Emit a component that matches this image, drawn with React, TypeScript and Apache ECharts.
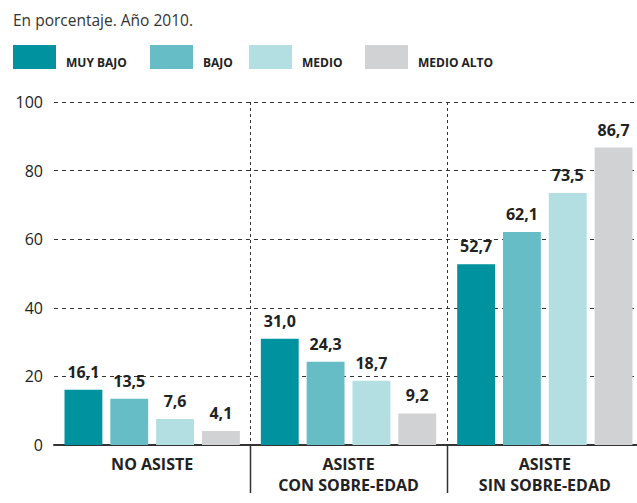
import React, { useEffect, useRef } from "react";
import * as echarts from "echarts";

const categories = ["NO ASISTE", "ASISTE\nCON SOBRE-EDAD", "ASISTE\nSIN SOBRE-EDAD"];
const seriesNames = ["MUY BAJO", "BAJO", "MEDIO", "MEDIO ALTO"];
const muyBajo = [16.1, 31.0, 52.7];
const bajo = [13.5, 24.3, 62.1];
const medio = [7.6, 18.7, 73.5];
const medioAlto = [4.1, 9.2, 86.7];
const yTicks = [0, 20, 40, 60, 80, 100];

const COLORS = ["#00939F", "#66BDC6", "#B3DFE3", "#D1D2D4"];
const FONT = "Open Sans";
const LEGEND_LEFT = [13, 150, 249, 365];

export default function App() {
  const ref = useRef<HTMLDivElement>(null);
  useEffect(() => {
    if (!ref.current) return;
    const chart = echarts.init(ref.current, null, { renderer: "svg" });
    const allSeries = [muyBajo, bajo, medio, medioAlto];
    const fmt = (v: number) => v.toFixed(1).replace(".", ",");
    chart.setOption({
      animation: false,
      textStyle: { fontFamily: FONT },
      title: {
        text: "En porcentaje. Año 2010.",
        left: 8,
        top: 7,
        textStyle: { fontFamily: FONT, fontSize: 15.5, fontWeight: "normal", color: "#333" },
      },
      legend: seriesNames.map((n, i) => ({
        data: [n],
        left: LEGEND_LEFT[i],
        top: 45,
        padding: 0,
        icon: "rect",
        itemWidth: 43,
        itemHeight: 24,
        itemGap: 0,
        selectedMode: false,
        formatter: "{a|{name}}",
        textStyle: {
          fontFamily: FONT,
          fontSize: 12,
          fontWeight: "bold",
          color: "#222",
          rich: {
            a: {
              fontFamily: FONT,
              fontSize: 12,
              fontWeight: "bold",
              color: "#222",
              padding: [10, 0, 0, 5],
            },
          },
        },
      })),
      grid: {
        left: 54,
        width: 589,
        top: 102,
        bottom: 58,
        containLabel: false,
        outerBoundsMode: "none",
      },
      xAxis: {
        type: "category",
        data: categories,
        axisLine: { show: true, lineStyle: { color: "#333", width: 2 } },
        axisTick: { show: false },
        axisLabel: {
          interval: 0,
          margin: 8,
          fontFamily: FONT,
          fontSize: 16,
          fontWeight: "bold",
          color: "#222",
          lineHeight: 21,
        },
      },
      yAxis: {
        type: "value",
        min: yTicks[0],
        max: yTicks[yTicks.length - 1],
        interval: 20,
        axisLine: { show: false },
        axisTick: { show: false },
        axisLabel: { fontFamily: FONT, fontSize: 16, color: "#222", margin: 11 },
        splitLine: { show: true, lineStyle: { color: "#333", width: 1, type: [4, 4] } },
      },
      series: allSeries.map((d, i) => ({
        name: seriesNames[i],
        type: "bar",
        data: d,
        barGap: "21%",
        barCategoryGap: "10.7%",
        itemStyle: { color: COLORS[i] },
        label: {
          show: true,
          position: "top",
          distance: 10,
          fontFamily: FONT,
          fontSize: 16,
          fontWeight: "bold",
          color: "#222",
          formatter: (p: any) => fmt(p.value),
        },
      })),
    });
    const graphics: any[] = [];
    const yTop = chart.convertToPixel({ yAxisIndex: 0 }, yTicks[yTicks.length - 1]);
    const yBase = chart.convertToPixel({ yAxisIndex: 0 }, 0);
    for (let i = 0; i < categories.length - 1; i++) {
      const a = chart.convertToPixel({ xAxisIndex: 0 }, categories[i]);
      const b = chart.convertToPixel({ xAxisIndex: 0 }, categories[i + 1]);
      const x = Math.round((a + b) / 2) + 0.5;
      graphics.push({
        type: "line",
        shape: { x1: x, y1: yTop, x2: x, y2: yBase },
        style: { stroke: "#333", lineWidth: 1, lineDash: [3, 3] },
        z: 1,
      });
      graphics.push({
        type: "line",
        shape: { x1: x, y1: yBase, x2: x, y2: yBase + 48 },
        style: { stroke: "#333", lineWidth: 1.5 },
        z: 1,
      });
    }
    chart.setOption({ graphic: graphics });
    return () => chart.dispose();
  }, []);
  return (
    <div
      ref={ref}
      style={{ position: "fixed", left: 0, top: 0, width: 637, height: 503, background: "#fff" }}
    />
  );
}
